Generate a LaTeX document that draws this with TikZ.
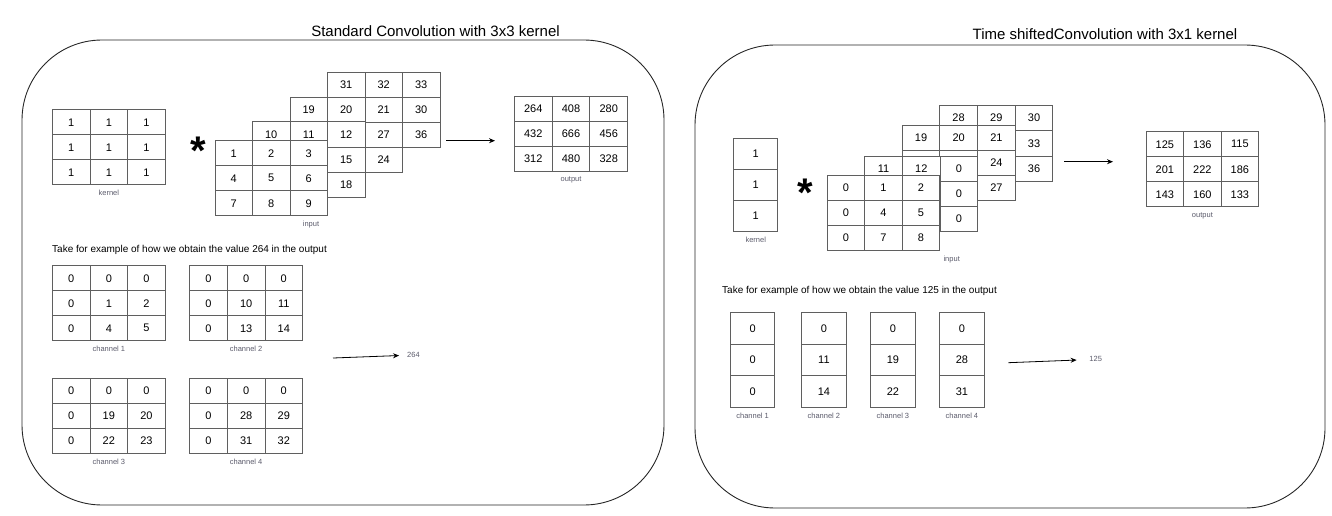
\documentclass[tikz,border=0pt]{standalone}
\usepackage{fontspec}
\setmainfont{Liberation Sans}
\usetikzlibrary{positioning,arrows.meta}

\definecolor{gridline}{HTML}{5F5F5F}
\definecolor{lblgray}{HTML}{5B5B6B}

\tikzset{
	cell/.style={draw=gridline,fill=white,line width=0.9pt,inner sep=0pt,anchor=north west,font=\fontsize{11}{13}\selectfont},
	lbl/.style={text=lblgray,inner sep=1pt,font=\fontsize{7.5}{9}\selectfont},
	boxtitle/.style={font=\fontsize{15}{18}\selectfont},
	note/.style={anchor=west,inner sep=0pt,font=\fontsize{10}{12}\selectfont},
	conv/.style={anchor=base,inner sep=0pt,font=\fontsize{40}{40}\bfseries\selectfont},
	panel/.style={draw=black!85,line width=0.9pt,rounded corners=80pt},
	arr/.style={line width=0.8pt,-{Stealth[length=6pt,width=5pt]}},
}

% name, x, y, cell width, cell height, columns, values
\newcommand{\matgrid}[7]{%
	\foreach \val [count=\idx from 0] in {#7}{%
		\pgfmathtruncatemacro{\gr}{\idx/#6}%
		\pgfmathtruncatemacro{\gc}{\idx-\gr*#6}%
		\node[cell,minimum width=#4pt,minimum height=#5pt] (#1-\gr-\gc) at ({#2+\gc*#4},{#3+\gr*#5}) {\val};
	}%
}

\begin{document}
\begin{tikzpicture}[x=1pt,y=-1pt]
	\useasboundingbox (0,0) rectangle (1332,516);

	% standard convolution
	\draw[panel] (22,40) rectangle (664,505);
	\node[boxtitle] (ltitle) at (435.5,31) {Standard Convolution with 3x3 kernel};

	\matgrid{lk}{52}{109.3}{37.6}{25}{3}{1,1,1,1,1,1,1,1,1}
	\node[lbl,below=4pt of lk-2-1] (lklbl) {kernel};
	\node[conv] (lstar) at (198.3,164.3) {*};

	\matgrid{li4}{327}{72}{37.5}{25}{3}{31,32,33,{},{},30,{},{},36}
	\matgrid{li3}{289.5}{97}{37.5}{25}{3}{19,20,21,{},{},27,{},{},24}
	\matgrid{li2}{252}{121.5}{37.5}{25}{3}{10,11,12,{},{},15,{},{},18}
	\matgrid{li1}{214.5}{140.3}{37.5}{25}{3}{1,2,3,4,5,6,7,8,9}
	\node[lbl] (lilbl) at (311,224.3) {input};

	\coordinate (lstart) at (446,140.7);
	\coordinate (lend) at (495,140.7);
	\draw[arr] (lstart) -- (lend);

	\matgrid{lo}{514}{96}{37.7}{25}{3}{264,408,280,432,666,456,312,480,328}
	\node[lbl,below=4pt of lo-2-1] (lolbl) {output};

	\node[note] (lnote) at (52,250) {Take for example of how we obtain the value 264 in the output};

	\matgrid{lca}{52}{265.3}{37.6}{25}{3}{0,0,0,0,1,2,0,4,5}
	\matgrid{lcb}{189.3}{265.3}{37.6}{25}{3}{0,0,0,0,10,11,0,13,14}
	\matgrid{lcc}{52}{377.7}{37.6}{25}{3}{0,0,0,0,19,20,0,22,23}
	\matgrid{lcd}{189.3}{377.7}{37.6}{25}{3}{0,0,0,0,28,29,0,31,32}
	\node[lbl,below=4pt of lca-2-1] (lcalbl) {channel 1};
	\node[lbl,below=4pt of lcb-2-1] (lcblbl) {channel 2};
	\node[lbl,below=4pt of lcc-2-1] (lcclbl) {channel 3};
	\node[lbl,below=4pt of lcd-2-1] (lcdlbl) {channel 4};

	\coordinate (lsum) at (333,358);
	\node[lbl,inner xsep=8pt] (lval) at (413.5,355) {264};
	\draw[arr] (lsum) -- (lval);

	% time shifted convolution
	\draw[panel] (695,45) rectangle (1325,508);
	\node[boxtitle] (rtitle) at (1105,34) {Time shiftedConvolution with 3x1 kernel};

	\matgrid{rk}{733.3}{137.7}{44}{31.1}{1}{1,1,1}
	\node[lbl,below=4pt of rk-2-0] (rklbl) {kernel};
	\node[conv] (rstar) at (805,206.7) {*};

	\matgrid{ri4}{939.3}{105}{37.7}{25.3}{3}{28,29,30,{},{},33,{},{},36}
	\matgrid{ri3}{901.7}{125}{37.7}{25}{3}{19,20,21,{},{},24,{},{},27}
	\matgrid{ri2}{864.3}{156}{37.7}{25}{3}{11,12,0,{},{},0,{},{},0}
	\matgrid{ri1}{826.7}{174.7}{37.5}{25.1}{3}{0,1,2,0,4,5,0,7,8}
	\node[lbl] (rilbl) at (951.7,259.3) {input};

	\coordinate (rstart) at (1064,161.7);
	\coordinate (rend) at (1113,161.7);
	\draw[arr] (rstart) -- (rend);

	\matgrid{ro}{1145.7}{131.3}{37.5}{25}{3}{125,136,115,201,222,186,143,160,133}
	\node[lbl,below=4pt of ro-2-1] (rolbl) {output};

	\node[note] (rnote) at (722,291) {Take for example of how we obtain the value 125 in the output};

	\matgrid{rca}{730}{312.3}{44.3}{31.5}{1}{0,0,0}
	\matgrid{rcb}{801.3}{312.3}{44.3}{31.5}{1}{0,11,14}
	\matgrid{rcc}{870.3}{312.3}{44.3}{31.5}{1}{0,19,22}
	\matgrid{rcd}{939.3}{312.3}{44.3}{31.5}{1}{0,28,31}
	\node[lbl,below=4pt of rca-2-0] (rcalbl) {channel 1};
	\node[lbl,below=4pt of rcb-2-0] (rcblbl) {channel 2};
	\node[lbl,below=4pt of rcc-2-0] (rcclbl) {channel 3};
	\node[lbl,below=4pt of rcd-2-0] (rcdlbl) {channel 4};

	\coordinate (rsum) at (1008.3,362.7);
	\node[lbl,inner xsep=12.6pt] (rval) at (1095.7,359.3) {125};
	\draw[arr] (rsum) -- (rval);
\end{tikzpicture}
\end{document}
